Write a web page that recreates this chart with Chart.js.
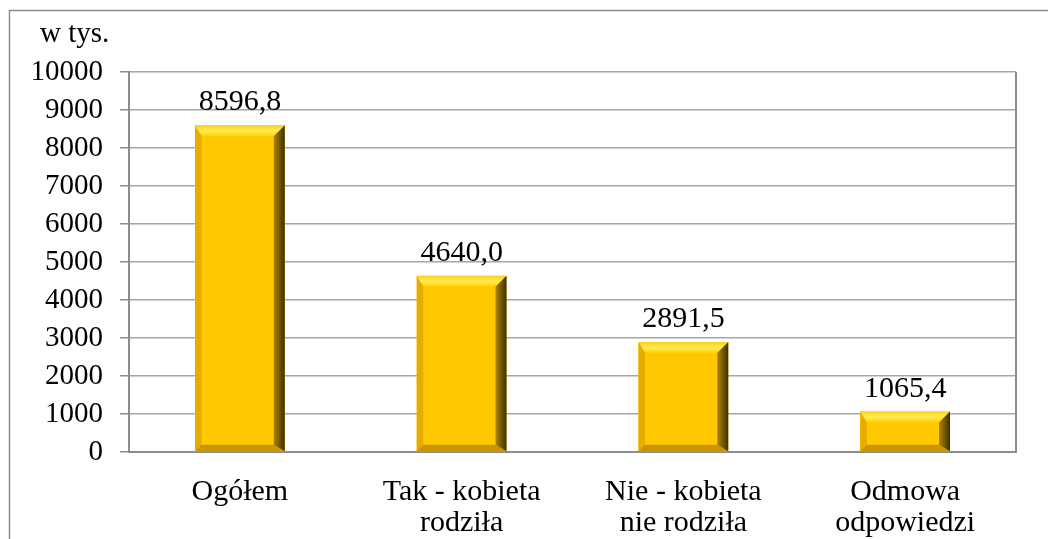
<!DOCTYPE html>
<html>
<head>
<meta charset="utf-8">
<script src="https://cdn.jsdelivr.net/npm/chart.js@4/dist/chart.umd.min.js"></script>
<style>
  html, body { margin: 0; padding: 0; background: #fff; }
  canvas { display: block; }
</style>
</head>
<body>
<canvas id="chart" width="1048" height="539"></canvas>
<script>
// dane z wykresu
var kategorie = [["Ogółem"], ["Tak - kobieta", "rodziła"], ["Nie - kobieta", "nie rodziła"], ["Odmowa", "odpowiedzi"]];
var wartosci = [8596.8, 4640.0, 2891.5, 1065.4];
var etykiety = ["8596,8", "4640,0", "2891,5", "1065,4"];
var jednostka = "w tys.";

var czcionka = "'Liberation Serif', 'Times New Roman', serif";

// ramka wokół wykresu + obramowanie obszaru wykresu + napis "w tys."
var ramka = {
  id: "ramka",
  beforeDraw: function (chart) {
    var c = chart.ctx;
    c.save();
    c.strokeStyle = "#8c8c8c";
    c.lineWidth = 1.5;
    c.beginPath();
    c.moveTo(9.5, 539);
    c.lineTo(9.5, 10.5);
    c.lineTo(1048, 10.5);
    c.stroke();
    c.fillStyle = "#000";
    c.font = "29px " + czcionka;
    c.textAlign = "left";
    c.textBaseline = "alphabetic";
    c.fillText(jednostka, 40, 42);
    c.restore();
  },
  afterDraw: function (chart) {
    var a = chart.chartArea;
    var c = chart.ctx;
    c.save();
    c.strokeStyle = "#8c8c8c";
    c.lineWidth = 2;
    c.beginPath();
    c.moveTo(a.right, a.top);
    c.lineTo(a.right, a.bottom);
    c.stroke();
    c.restore();
  }
};

// efekt fazy na słupkach + etykiety wartości
var faza = {
  id: "faza",
  afterDatasetsDraw: function (chart) {
    var c = chart.ctx;
    var meta = chart.getDatasetMeta(0);
    meta.data.forEach(function (bar, i) {
      var p = bar.getProps(["x", "y", "base", "width"], true);
      var l = p.x - p.width / 2, r = p.x + p.width / 2, t = p.y, b = p.base;
      var h = b - t;
      var f = Math.min(11, h / 3);
      c.save();
      // góra
      var g = c.createLinearGradient(0, t, 0, t + f);
      g.addColorStop(0, "#ffd21a");
      g.addColorStop(0.5, "#ffec55");
      g.addColorStop(1, "#ffd000");
      c.fillStyle = g;
      c.beginPath();
      c.moveTo(l, t); c.lineTo(r, t); c.lineTo(r - f, t + f); c.lineTo(l + f * 0.6, t + f);
      c.closePath(); c.fill();
      // lewo
      c.fillStyle = "#e6ad00";
      c.beginPath();
      c.moveTo(l, t); c.lineTo(l + f * 0.6, t + f); c.lineTo(l + f * 0.6, b - f * 0.6); c.lineTo(l, b);
      c.closePath(); c.fill();
      // dół
      c.fillStyle = "#c99500";
      c.beginPath();
      c.moveTo(l, b); c.lineTo(l + f * 0.6, b - f * 0.6); c.lineTo(r - f, b - f * 0.6); c.lineTo(r, b);
      c.closePath(); c.fill();
      // prawo (cień)
      var g2 = c.createLinearGradient(r - f, 0, r, 0);
      g2.addColorStop(0, "#b08400");
      g2.addColorStop(1, "#3d2e00");
      c.fillStyle = g2;
      c.beginPath();
      c.moveTo(r, t); c.lineTo(r - f, t + f); c.lineTo(r - f, b - f * 0.6); c.lineTo(r, b);
      c.closePath(); c.fill();
      // etykieta
      c.fillStyle = "#000";
      c.font = "30px " + czcionka;
      c.textAlign = "center";
      c.textBaseline = "alphabetic";
      c.fillText(etykiety[i], p.x, t - 15);
      c.restore();
    });
  }
};

var ctx = document.getElementById("chart").getContext("2d");

var chart = new Chart(ctx, {
  type: "bar",
  data: {
    labels: kategorie,
    datasets: [
      {
        data: wartosci,
        backgroundColor: "#ffc800",
        borderWidth: 0,
        categoryPercentage: 1,
        barPercentage: 0.405
      }
    ]
  },
  options: {
    responsive: false,
    animation: false,
    devicePixelRatio: 1,
    layout: { padding: { left: 10, top: 72, right: 32, bottom: 0 } },
    plugins: {
      legend: { display: false },
      tooltip: { enabled: false }
    },
    scales: {
      x: {
        grid: { display: false, drawTicks: false },
        border: { display: true, color: "#8c8c8c", width: 2 },
        ticks: {
          color: "#000",
          padding: 25,
          maxRotation: 0,
          autoSkip: false,
          font: { family: czcionka, size: 30, lineHeight: 1.02 }
        },
        afterFit: function (s) { s.height = 87; }
      },
      y: {
        min: 0,
        max: 10000,
        grid: { color: "#a6a6a6", lineWidth: 1.5, tickLength: 9, tickColor: "#8c8c8c" },
        border: { display: true, color: "#8c8c8c", width: 2 },
        ticks: {
          stepSize: 1000,
          color: "#000",
          padding: 17,
          autoSkip: false,
          font: { family: czcionka, size: 29 },
          callback: function (v) { return String(v); }
        },
        afterFit: function (s) { s.width = 119; }
      }
    }
  },
  plugins: [ramka, faza]
});
</script>
</body>
</html>
